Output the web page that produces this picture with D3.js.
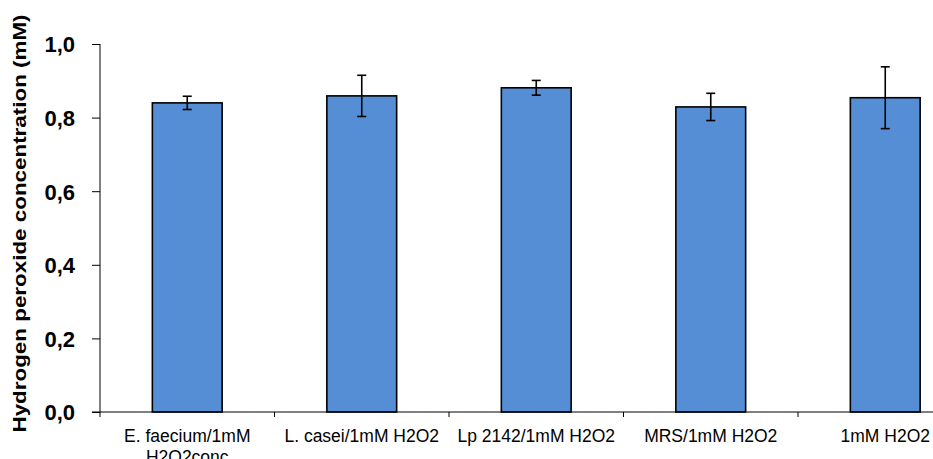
<!DOCTYPE html>
<html><head><meta charset="utf-8">
<script src="https://cdn.jsdelivr.net/npm/d3@7/dist/d3.min.js"></script>
<style>body{margin:0;background:#fff}svg{display:block}text{font-family:"Liberation Sans",Arial,sans-serif}</style>
</head><body><svg id="c" width="933" height="459"></svg>
<script>
const categories = [["E. faecium/1mM","H2O2conc"],["L. casei/1mM H2O2"],["Lp 2142/1mM H2O2"],["MRS/1mM H2O2"],["1mM H2O2"]];
const values = [0.840, 0.859, 0.881, 0.829, 0.854];
const errors = [0.018, 0.056, 0.020, 0.037, 0.084];
const yTicks = [0,0.2,0.4,0.6,0.8,1.0];

const svg = d3.select("#c");
const mLeft = 100, mTop = 44, mBottom = 412, band = 174.5;
const x = d3.scaleBand().domain(d3.range(5)).range([mLeft, mLeft + band*5]).paddingInner(0.6).paddingOuter(0.3);
const y = d3.scaleLinear().domain([0,1]).range([mBottom, mTop]);

// bars
svg.selectAll("rect.bar").data(values).join("rect")
  .attr("x",(d,i)=>x(i)).attr("width",x.bandwidth())
  .attr("y",d=>y(d)).attr("height",d=>mBottom-y(d))
  .attr("fill","#558ed5").attr("stroke","#000").attr("stroke-width",1.6);

// error bars
const g = svg.append("g").attr("stroke","#000").attr("stroke-width",1.6);
values.forEach((v,i)=>{
  const cx = x(i)+x.bandwidth()/2;
  g.append("line").attr("x1",cx).attr("x2",cx).attr("y1",y(v+errors[i])).attr("y2",y(v-errors[i]));
  g.append("line").attr("x1",cx-4.5).attr("x2",cx+4.5).attr("y1",y(v+errors[i])).attr("y2",y(v+errors[i]));
  g.append("line").attr("x1",cx-4.5).attr("x2",cx+4.5).attr("y1",y(v-errors[i])).attr("y2",y(v-errors[i]));
});

// y axis
const ya = svg.append("g").attr("transform",`translate(${mLeft},0)`)
  .call(d3.axisLeft(y).tickValues(yTicks).tickSize(8).tickPadding(17).tickFormat(d=>d3.format(".1f")(d).replace(".",",")));
ya.selectAll("path,line").attr("stroke","#000").attr("stroke-width",1);
ya.select("path").attr("d",`M0,${mTop}V${mBottom}`);
ya.selectAll("text").attr("font-size",22).attr("font-weight","bold").attr("fill","#000").attr("font-family","Liberation Sans, Arial, sans-serif").attr("dy","0.36em");

// x axis
const xs = d3.scaleLinear().domain([0,5]).range([mLeft,mLeft+band*5]);
const xa = svg.append("g").attr("transform",`translate(0,${mBottom})`);
xa.append("line").attr("x1",mLeft-8).attr("x2",933).attr("stroke","#000");
xa.selectAll("line.t").data(d3.range(0,6)).join("line").attr("class","t")
  .attr("x1",d=>xs(d)).attr("x2",d=>xs(d)).attr("y1",0).attr("y2",5).attr("stroke","#000");
const lbl = xa.selectAll("text.l").data(categories).join("text").attr("class","l")
  .attr("x",(d,i)=>x(i)+x.bandwidth()/2).attr("y",29.5).attr("text-anchor","middle")
  .attr("font-size",17.5).attr("fill","#000");
lbl.selectAll("tspan").data(d=>d).join("tspan").attr("x",function(){return this.parentNode.getAttribute("x");})
  .attr("dy",(d,i)=>i?21.5:0).text(d=>d);

// y title
svg.append("text").attr("transform",`translate(26,${223.5}) rotate(-90)`)
  .attr("text-anchor","middle").attr("font-size",19).attr("font-weight","bold").attr("fill","#000")
  .attr("textLength",418).attr("lengthAdjust","spacingAndGlyphs")
  .text("Hydrogen peroxide concentration (mM)");
</script></body></html>
